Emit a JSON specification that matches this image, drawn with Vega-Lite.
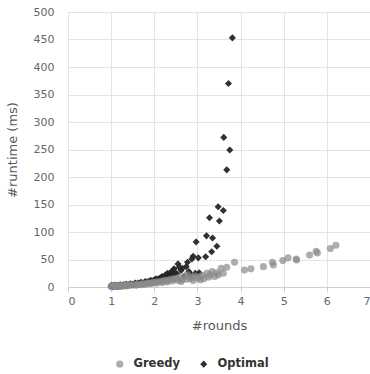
{
  "$schema": "https://vega.github.io/schema/vega-lite/v6.json",
  "width": 302,
  "height": 275,
  "autosize": {"type": "none"},
  "padding": {"left": 68, "top": 12, "right": 0, "bottom": 87},
  "background": "white",
  "config": {
    "font": "DejaVu Sans",
    "view": {"stroke": null},
    "axis": {
      "labelColor": "#666666",
      "labelFontSize": 11,
      "titleColor": "#595959",
      "titleFontSize": 13,
      "titleFontWeight": "normal",
      "gridColor": "#e4e4e4",
      "gridWidth": 1
    }
  },
  "data": {
    "values": [
      {"series": "Optimal", "rounds": 1.0, "runtime": 1},
      {"series": "Optimal", "rounds": 1.01, "runtime": 3},
      {"series": "Optimal", "rounds": 1.02, "runtime": 2},
      {"series": "Optimal", "rounds": 1.04, "runtime": 0},
      {"series": "Optimal", "rounds": 1.05, "runtime": 1},
      {"series": "Optimal", "rounds": 1.07, "runtime": 3},
      {"series": "Optimal", "rounds": 1.08, "runtime": 2},
      {"series": "Optimal", "rounds": 1.1, "runtime": 2},
      {"series": "Optimal", "rounds": 1.11, "runtime": 3},
      {"series": "Optimal", "rounds": 1.12, "runtime": 1},
      {"series": "Optimal", "rounds": 1.15, "runtime": 3},
      {"series": "Optimal", "rounds": 1.16, "runtime": 1},
      {"series": "Optimal", "rounds": 1.18, "runtime": 2},
      {"series": "Optimal", "rounds": 1.2, "runtime": 2},
      {"series": "Optimal", "rounds": 1.21, "runtime": 4},
      {"series": "Optimal", "rounds": 1.23, "runtime": 3},
      {"series": "Optimal", "rounds": 1.25, "runtime": 2},
      {"series": "Optimal", "rounds": 1.26, "runtime": 3},
      {"series": "Optimal", "rounds": 1.29, "runtime": 4},
      {"series": "Optimal", "rounds": 1.3, "runtime": 3},
      {"series": "Optimal", "rounds": 1.33, "runtime": 4},
      {"series": "Optimal", "rounds": 1.35, "runtime": 5},
      {"series": "Optimal", "rounds": 1.36, "runtime": 3},
      {"series": "Optimal", "rounds": 1.39, "runtime": 3},
      {"series": "Optimal", "rounds": 1.4, "runtime": 4},
      {"series": "Optimal", "rounds": 1.43, "runtime": 5},
      {"series": "Optimal", "rounds": 1.45, "runtime": 6},
      {"series": "Optimal", "rounds": 1.47, "runtime": 4},
      {"series": "Optimal", "rounds": 1.5, "runtime": 5},
      {"series": "Optimal", "rounds": 1.52, "runtime": 4},
      {"series": "Optimal", "rounds": 1.54, "runtime": 6},
      {"series": "Optimal", "rounds": 1.56, "runtime": 7},
      {"series": "Optimal", "rounds": 1.58, "runtime": 5},
      {"series": "Optimal", "rounds": 1.62, "runtime": 7},
      {"series": "Optimal", "rounds": 1.64, "runtime": 5},
      {"series": "Optimal", "rounds": 1.66, "runtime": 6},
      {"series": "Optimal", "rounds": 1.68, "runtime": 8},
      {"series": "Optimal", "rounds": 1.7, "runtime": 8},
      {"series": "Optimal", "rounds": 1.74, "runtime": 7},
      {"series": "Optimal", "rounds": 1.76, "runtime": 6},
      {"series": "Optimal", "rounds": 1.78, "runtime": 9},
      {"series": "Optimal", "rounds": 1.8, "runtime": 10},
      {"series": "Optimal", "rounds": 1.82, "runtime": 8},
      {"series": "Optimal", "rounds": 1.86, "runtime": 10},
      {"series": "Optimal", "rounds": 1.88, "runtime": 8},
      {"series": "Optimal", "rounds": 1.9, "runtime": 11},
      {"series": "Optimal", "rounds": 1.92, "runtime": 12},
      {"series": "Optimal", "rounds": 1.94, "runtime": 9},
      {"series": "Optimal", "rounds": 1.98, "runtime": 12},
      {"series": "Optimal", "rounds": 2.0, "runtime": 10},
      {"series": "Optimal", "rounds": 2.02, "runtime": 13},
      {"series": "Optimal", "rounds": 2.04, "runtime": 15},
      {"series": "Optimal", "rounds": 2.06, "runtime": 11},
      {"series": "Optimal", "rounds": 2.1, "runtime": 15},
      {"series": "Optimal", "rounds": 2.12, "runtime": 12},
      {"series": "Optimal", "rounds": 2.14, "runtime": 14},
      {"series": "Optimal", "rounds": 2.16, "runtime": 18},
      {"series": "Optimal", "rounds": 2.19, "runtime": 19},
      {"series": "Optimal", "rounds": 2.22, "runtime": 17},
      {"series": "Optimal", "rounds": 2.24, "runtime": 15},
      {"series": "Optimal", "rounds": 2.26, "runtime": 22},
      {"series": "Optimal", "rounds": 2.28, "runtime": 20},
      {"series": "Optimal", "rounds": 2.31, "runtime": 25},
      {"series": "Optimal", "rounds": 2.33, "runtime": 18},
      {"series": "Optimal", "rounds": 2.35, "runtime": 21},
      {"series": "Optimal", "rounds": 2.38, "runtime": 23},
      {"series": "Optimal", "rounds": 2.4, "runtime": 28},
      {"series": "Optimal", "rounds": 2.42, "runtime": 20},
      {"series": "Optimal", "rounds": 2.44, "runtime": 31},
      {"series": "Optimal", "rounds": 2.46, "runtime": 33},
      {"series": "Optimal", "rounds": 2.48, "runtime": 26},
      {"series": "Optimal", "rounds": 2.52, "runtime": 24},
      {"series": "Optimal", "rounds": 2.55, "runtime": 42},
      {"series": "Optimal", "rounds": 2.58, "runtime": 36},
      {"series": "Optimal", "rounds": 2.62, "runtime": 30},
      {"series": "Optimal", "rounds": 2.65, "runtime": 34},
      {"series": "Optimal", "rounds": 2.7, "runtime": 20},
      {"series": "Optimal", "rounds": 2.74, "runtime": 37},
      {"series": "Optimal", "rounds": 2.77, "runtime": 45},
      {"series": "Optimal", "rounds": 2.8, "runtime": 28},
      {"series": "Optimal", "rounds": 2.85, "runtime": 22},
      {"series": "Optimal", "rounds": 2.87, "runtime": 51},
      {"series": "Optimal", "rounds": 2.9, "runtime": 56},
      {"series": "Optimal", "rounds": 2.95, "runtime": 25},
      {"series": "Optimal", "rounds": 2.97, "runtime": 82},
      {"series": "Optimal", "rounds": 3.02, "runtime": 53},
      {"series": "Optimal", "rounds": 3.04, "runtime": 26},
      {"series": "Optimal", "rounds": 3.19, "runtime": 55},
      {"series": "Optimal", "rounds": 3.21, "runtime": 93},
      {"series": "Optimal", "rounds": 3.28, "runtime": 126},
      {"series": "Optimal", "rounds": 3.33, "runtime": 64},
      {"series": "Optimal", "rounds": 3.35, "runtime": 89},
      {"series": "Optimal", "rounds": 3.45, "runtime": 74},
      {"series": "Optimal", "rounds": 3.48, "runtime": 146},
      {"series": "Optimal", "rounds": 3.51, "runtime": 120},
      {"series": "Optimal", "rounds": 3.6, "runtime": 139},
      {"series": "Optimal", "rounds": 3.61, "runtime": 272},
      {"series": "Optimal", "rounds": 3.68, "runtime": 213},
      {"series": "Optimal", "rounds": 3.72, "runtime": 370},
      {"series": "Optimal", "rounds": 3.75, "runtime": 249},
      {"series": "Optimal", "rounds": 3.81, "runtime": 453},
      {"series": "Greedy", "rounds": 1.0, "runtime": 1},
      {"series": "Greedy", "rounds": 1.01, "runtime": 2},
      {"series": "Greedy", "rounds": 1.03, "runtime": 1},
      {"series": "Greedy", "rounds": 1.06, "runtime": 2},
      {"series": "Greedy", "rounds": 1.08, "runtime": 3},
      {"series": "Greedy", "rounds": 1.1, "runtime": 1},
      {"series": "Greedy", "rounds": 1.12, "runtime": 1},
      {"series": "Greedy", "rounds": 1.14, "runtime": 2},
      {"series": "Greedy", "rounds": 1.18, "runtime": 2},
      {"series": "Greedy", "rounds": 1.2, "runtime": 3},
      {"series": "Greedy", "rounds": 1.22, "runtime": 2},
      {"series": "Greedy", "rounds": 1.25, "runtime": 1},
      {"series": "Greedy", "rounds": 1.27, "runtime": 3},
      {"series": "Greedy", "rounds": 1.32, "runtime": 3},
      {"series": "Greedy", "rounds": 1.35, "runtime": 2},
      {"series": "Greedy", "rounds": 1.37, "runtime": 3},
      {"series": "Greedy", "rounds": 1.42, "runtime": 4},
      {"series": "Greedy", "rounds": 1.45, "runtime": 3},
      {"series": "Greedy", "rounds": 1.48, "runtime": 4},
      {"series": "Greedy", "rounds": 1.54, "runtime": 4},
      {"series": "Greedy", "rounds": 1.58, "runtime": 3},
      {"series": "Greedy", "rounds": 1.6, "runtime": 5},
      {"series": "Greedy", "rounds": 1.66, "runtime": 5},
      {"series": "Greedy", "rounds": 1.7, "runtime": 4},
      {"series": "Greedy", "rounds": 1.72, "runtime": 6},
      {"series": "Greedy", "rounds": 1.78, "runtime": 6},
      {"series": "Greedy", "rounds": 1.8, "runtime": 5},
      {"series": "Greedy", "rounds": 1.84, "runtime": 7},
      {"series": "Greedy", "rounds": 1.9, "runtime": 7},
      {"series": "Greedy", "rounds": 1.92, "runtime": 6},
      {"series": "Greedy", "rounds": 1.96, "runtime": 8},
      {"series": "Greedy", "rounds": 2.02, "runtime": 9},
      {"series": "Greedy", "rounds": 2.05, "runtime": 7},
      {"series": "Greedy", "rounds": 2.08, "runtime": 9},
      {"series": "Greedy", "rounds": 2.14, "runtime": 10},
      {"series": "Greedy", "rounds": 2.18, "runtime": 8},
      {"series": "Greedy", "rounds": 2.2, "runtime": 11},
      {"series": "Greedy", "rounds": 2.26, "runtime": 12},
      {"series": "Greedy", "rounds": 2.3, "runtime": 9},
      {"series": "Greedy", "rounds": 2.32, "runtime": 12},
      {"series": "Greedy", "rounds": 2.38, "runtime": 14},
      {"series": "Greedy", "rounds": 2.42, "runtime": 11},
      {"series": "Greedy", "rounds": 2.45, "runtime": 15},
      {"series": "Greedy", "rounds": 2.52, "runtime": 16},
      {"series": "Greedy", "rounds": 2.55, "runtime": 12},
      {"series": "Greedy", "rounds": 2.58, "runtime": 17},
      {"series": "Greedy", "rounds": 2.62, "runtime": 10},
      {"series": "Greedy", "rounds": 2.65, "runtime": 13},
      {"series": "Greedy", "rounds": 2.7, "runtime": 19},
      {"series": "Greedy", "rounds": 2.75, "runtime": 14},
      {"series": "Greedy", "rounds": 2.77, "runtime": 22},
      {"series": "Greedy", "rounds": 2.83, "runtime": 15},
      {"series": "Greedy", "rounds": 2.88, "runtime": 18},
      {"series": "Greedy", "rounds": 2.9, "runtime": 12},
      {"series": "Greedy", "rounds": 2.95, "runtime": 20},
      {"series": "Greedy", "rounds": 3.0, "runtime": 16},
      {"series": "Greedy", "rounds": 3.05, "runtime": 18},
      {"series": "Greedy", "rounds": 3.07, "runtime": 13},
      {"series": "Greedy", "rounds": 3.11, "runtime": 21},
      {"series": "Greedy", "rounds": 3.15, "runtime": 15},
      {"series": "Greedy", "rounds": 3.22, "runtime": 25},
      {"series": "Greedy", "rounds": 3.26, "runtime": 18},
      {"series": "Greedy", "rounds": 3.3, "runtime": 22},
      {"series": "Greedy", "rounds": 3.34, "runtime": 28},
      {"series": "Greedy", "rounds": 3.4, "runtime": 19},
      {"series": "Greedy", "rounds": 3.45, "runtime": 26},
      {"series": "Greedy", "rounds": 3.48, "runtime": 22},
      {"series": "Greedy", "rounds": 3.55, "runtime": 34},
      {"series": "Greedy", "rounds": 3.6, "runtime": 25},
      {"series": "Greedy", "rounds": 3.68, "runtime": 36},
      {"series": "Greedy", "rounds": 3.86, "runtime": 45},
      {"series": "Greedy", "rounds": 4.09, "runtime": 31},
      {"series": "Greedy", "rounds": 4.24, "runtime": 33},
      {"series": "Greedy", "rounds": 4.53, "runtime": 37},
      {"series": "Greedy", "rounds": 4.74, "runtime": 45},
      {"series": "Greedy", "rounds": 4.76, "runtime": 40},
      {"series": "Greedy", "rounds": 4.98, "runtime": 48},
      {"series": "Greedy", "rounds": 5.1, "runtime": 53},
      {"series": "Greedy", "rounds": 5.29, "runtime": 51},
      {"series": "Greedy", "rounds": 5.3, "runtime": 49},
      {"series": "Greedy", "rounds": 5.6, "runtime": 58},
      {"series": "Greedy", "rounds": 5.75, "runtime": 65},
      {"series": "Greedy", "rounds": 5.78, "runtime": 62},
      {"series": "Greedy", "rounds": 6.08, "runtime": 70},
      {"series": "Greedy", "rounds": 6.21, "runtime": 76}
    ]
  },
  "mark": {"type": "point", "filled": true, "size": 50},
  "encoding": {
    "x": {
      "field": "rounds",
      "type": "quantitative",
      "title": "#rounds",
      "scale": {"domain": [0, 7], "nice": false},
      "axis": {
        "values": [0, 1, 2, 3, 4, 5, 6, 7],
        "domainColor": "#c5d0e3",
        "tickColor": "#c5d0e3",
        "tickSize": 5,
        "labelPadding": 3,
        "titlePadding": 13
      }
    },
    "y": {
      "field": "runtime",
      "type": "quantitative",
      "title": "#runtime (ms)",
      "scale": {"domain": [0, 500], "nice": false},
      "axis": {
        "values": [0, 50, 100, 150, 200, 250, 300, 350, 400, 450, 500],
        "domain": false,
        "ticks": false,
        "labelPadding": 14,
        "titlePadding": 14
      }
    },
    "color": {
      "field": "series",
      "type": "nominal",
      "scale": {"domain": ["Greedy", "Optimal"], "range": ["#8a8a8a", "#262626"]},
      "legend": {
        "title": null,
        "orient": "none",
        "direction": "horizontal",
        "legendX": 46,
        "legendY": 346,
        "labelFontSize": 11.5,
        "labelFontWeight": "bold",
        "labelColor": "#333333",
        "labelOffset": 8,
        "columnPadding": 18,
        "symbolSize": 50
      }
    },
    "shape": {
      "field": "series",
      "type": "nominal",
      "scale": {"domain": ["Greedy", "Optimal"], "range": ["circle", "diamond"]},
      "legend": null
    },
    "opacity": {
      "field": "series",
      "type": "nominal",
      "scale": {"domain": ["Greedy", "Optimal"], "range": [0.7, 0.95]},
      "legend": null
    }
  }
}
